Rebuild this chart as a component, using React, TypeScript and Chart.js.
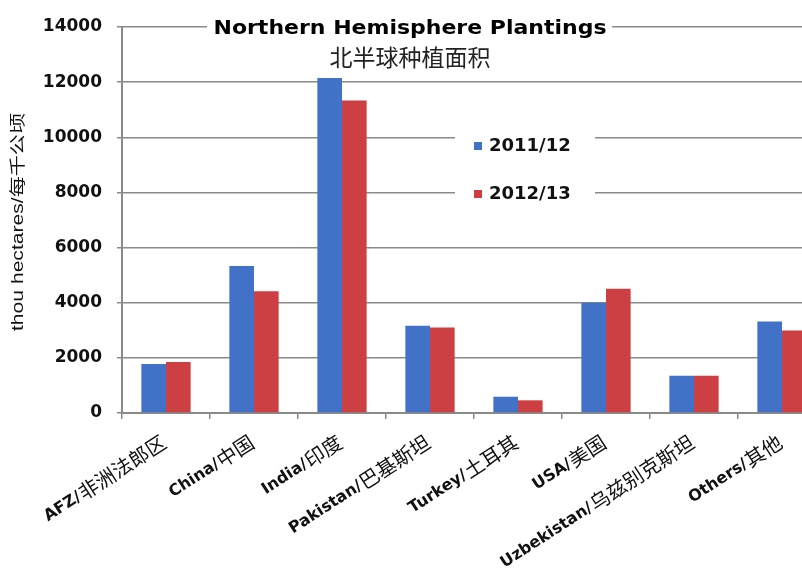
import React, { useEffect, useRef } from "react";
import { Chart, registerables } from "chart.js";

Chart.register(...registerables);

const categoriesEn = ["AFZ", "China", "India", "Pakistan", "Turkey", "USA", "Uzbekistan", "Others"];
const categoriesZh = ["非洲法郎区", "中国", "印度", "巴基斯坦", "土耳其", "美国", "乌兹别克斯坦", "其他"];
const series1Label = "2011/12";
const series2Label = "2012/13";
const series1 = [1780, 5330, 12150, 3160, 590, 4000, 1350, 3320];
const series2 = [1850, 4420, 11330, 3100, 460, 4510, 1350, 2990];
const yMin = 0;
const yMax = 14000;
const yStep = 2000;
const titleText = "Northern Hemisphere Plantings";
const subtitleText = "北半球种植面积";
const yAxisTitle = "thou hectares/每千公顷";

const BLUE = "#4272c8";
const RED = "#cc3f42";
const GRID = "#8a8a8a";
const BOLD = "'DejaVu Sans', 'Liberation Sans', Arial, sans-serif";

const overlayPlugin = {
  id: "overlay",
  afterDraw(chart: any) {
    const ctx = chart.ctx as CanvasRenderingContext2D;
    const xs = chart.scales.x;
    const area = chart.chartArea;
    ctx.save();

    // Title with white background over the top gridline
    ctx.fillStyle = "#fff";
    ctx.fillRect(207, 12, 405, 30);
    ctx.font = `bold 20px ${BOLD}`;
    ctx.fillStyle = "#000";
    ctx.textBaseline = "alphabetic";
    const tw = ctx.measureText(titleText).width;
    ctx.save();
    ctx.translate(410, 34);
    ctx.scale(393 / tw, 1);
    ctx.textAlign = "center";
    ctx.fillText(titleText, 0, 0);
    ctx.restore();

    // Subtitle
    ctx.font = "23px 'Noto Sans CJK SC', sans-serif";
    ctx.textAlign = "center";
    ctx.textBaseline = "middle";
    ctx.fillStyle = "#222";
    ctx.fillText(subtitleText, 410, 57);

    // Legend
    ctx.fillStyle = "#fff";
    ctx.fillRect(455, 124, 140, 86);
    ctx.fillStyle = BLUE;
    ctx.fillRect(474, 142, 8, 8);
    ctx.fillStyle = RED;
    ctx.fillRect(474, 190, 8, 8);
    ctx.fillStyle = "#111";
    ctx.font = `bold 18px ${BOLD}`;
    ctx.textAlign = "left";
    ctx.textBaseline = "middle";
    ctx.fillText(series1Label, 489, 146);
    ctx.fillText(series2Label, 489, 194);

    // Y axis title
    ctx.save();
    ctx.translate(19, 222);
    ctx.rotate(-Math.PI / 2);
    ctx.font = "16px 'Liberation Sans', Arial, 'Noto Sans CJK SC', sans-serif";
    const yw = ctx.measureText(yAxisTitle).width;
    ctx.scale(Math.min(1.4, 218 / yw), 1);
    ctx.textAlign = "center";
    ctx.textBaseline = "middle";
    ctx.fillStyle = "#111";
    ctx.fillText(yAxisTitle, 0, 0);
    ctx.restore();

    // X labels (bold Latin + regular Chinese)
    const ang = (-33 * Math.PI) / 180;
    for (let i = 0; i < categoriesEn.length; i++) {
      const x = xs.getPixelForValue(i);
      const latin = categoriesEn[i] + "/";
      const zh = categoriesZh[i];
      ctx.save();
      ctx.translate(x - 2, area.bottom + 27);
      ctx.rotate(ang);
      ctx.textBaseline = "middle";
      ctx.textAlign = "left";
      ctx.fillStyle = "#111";
      ctx.font = "20px 'Noto Sans CJK SC', sans-serif";
      const wz = ctx.measureText(zh).width;
      ctx.fillText(zh, -wz, 0);
      ctx.font = `bold 16px ${BOLD}`;
      const wl = ctx.measureText(latin).width;
      ctx.fillText(latin, -wz - wl - 1, 1);
      ctx.restore();
    }
    ctx.restore();
  },
};

export default function App() {
  const ref = useRef<HTMLCanvasElement | null>(null);

  useEffect(() => {
    if (!ref.current) return;
    const chart = new Chart(ref.current, {
      type: "bar",
      data: {
        labels: categoriesEn,
        datasets: [
          { label: series1Label, data: series1, backgroundColor: BLUE, borderWidth: 0 },
          { label: series2Label, data: series2, backgroundColor: RED, borderWidth: 0 },
        ],
      },
      options: {
        responsive: false,
        animation: false,
        devicePixelRatio: 1,
        layout: { padding: { left: 0, right: 6, top: 27, bottom: 0 } },
        datasets: { bar: { barPercentage: 1, categoryPercentage: 0.56 } },
        plugins: { legend: { display: false }, tooltip: { enabled: false }, title: { display: false } },
        scales: {
          x: {
            offset: true,
            grid: { display: true, drawOnChartArea: false, drawTicks: true, tickLength: 6, color: GRID, lineWidth: 1.5 },
            border: { display: true, color: GRID, width: 2 },
            ticks: { display: false, autoSkip: false },
            afterFit(scale: any) {
              scale.height = 568 - 413;
            },
          },
          y: {
            min: yMin,
            max: yMax,
            grid: { color: GRID, lineWidth: 1.5, tickLength: 5 },
            border: { display: true, color: GRID, width: 2 },
            ticks: {
              stepSize: yStep,
              color: "#111",
              padding: 15,
              font: { family: BOLD, size: 17, weight: "bold" },
              callback: (v: any) => String(v),
            },
            afterFit(scale: any) {
              scale.width = 122;
            },
          },
        },
      },
      plugins: [overlayPlugin],
    });
    return () => chart.destroy();
  }, []);

  return (
    <div style={{ position: "fixed", left: 0, top: 0, width: 802, height: 568, overflow: "hidden", background: "#fff" }}>
      <canvas ref={ref} width={832} height={568} style={{ display: "block" }} />
    </div>
  );
}
